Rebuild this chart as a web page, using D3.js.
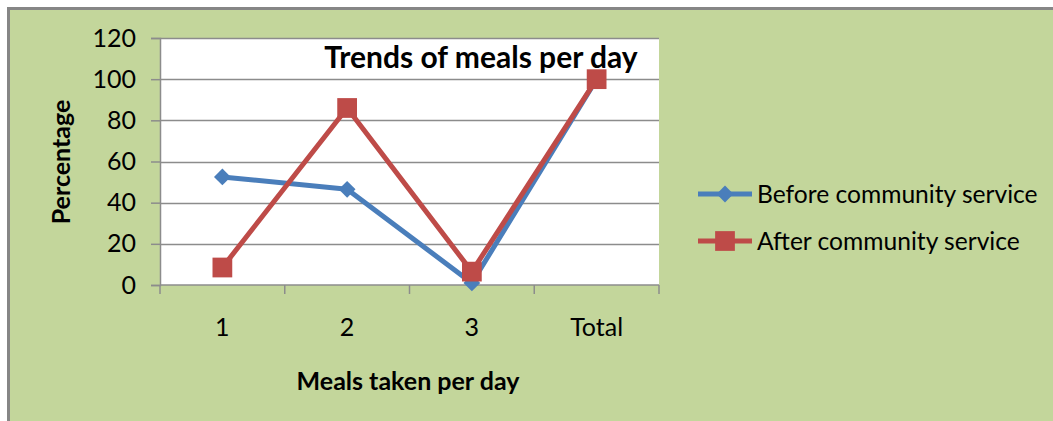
<!DOCTYPE html>
<html>
<head>
<meta charset="utf-8">
<script src="https://cdn.jsdelivr.net/npm/d3@7"></script>
<style>
  body { margin: 0; background: #fff; }
  svg { display: block; font-family: Lato, "Open Sans", sans-serif; }
</style>
</head>
<body>
<div id="chart"></div>
<script>
// data
var categories = ['1', '2', '3', 'Total']
var beforeValues = [52.5, 46.5, 1, 100]
var afterValues = [8.5, 86, 6.5, 100]
var yTicks = [0, 20, 40, 60, 80, 100, 120]
var seriesNames = ['Before community service', 'After community service']

var W = 1053, H = 421
var plot = {left: 160, top: 38, right: 659, bottom: 285}

var svg = d3.select('#chart').append('svg')
    .attr('width', W)
    .attr('height', H)

// outer chart frame
svg.append('rect')
    .attr('x', 8.5).attr('y', 8.5)
    .attr('width', W).attr('height', H)
    .attr('fill', '#c3d69b')
    .attr('stroke', '#868686')
    .attr('stroke-width', 3)

var x = d3.scaleBand()
    .domain(categories)
    .range([plot.left, plot.right])

var y = d3.scaleLinear()
    .domain([0, 120])
    .range([plot.bottom, plot.top])

// plot area
svg.append('rect')
    .attr('x', plot.left).attr('y', plot.top)
    .attr('width', plot.right - plot.left)
    .attr('height', plot.bottom - plot.top)
    .attr('fill', '#fff')

// gridlines
svg.append('g')
  .selectAll('line')
  .data(yTicks.filter(function(d){ return d > 0 }))
  .enter().append('line')
    .attr('x1', plot.left).attr('x2', plot.right)
    .attr('y1', function(d){ return Math.round(y(d)) + 0.5 })
    .attr('y2', function(d){ return Math.round(y(d)) + 0.5 })
    .attr('stroke', '#8c8c8c')
    .attr('stroke-width', 1.5)

// y axis
var yAxis = d3.axisLeft(y).tickValues(yTicks).tickSize(9).tickPadding(15)
var gy = svg.append('g')
    .attr('transform', 'translate(' + plot.left + ',0)')
    .call(yAxis)
gy.select('.domain').attr('stroke', '#8c8c8c').attr('stroke-width', 1.5)
gy.selectAll('.tick line').attr('stroke', '#8c8c8c').attr('stroke-width', 1.5)
gy.selectAll('.tick text')
    .attr('font-size', '25px')
    .attr('fill', '#000')
    .attr('font-family', 'Lato, sans-serif')

// x axis: ticks at category boundaries
var gx = svg.append('g')
    .attr('transform', 'translate(0,' + plot.bottom + ')')
gx.append('line')
    .attr('x1', plot.left).attr('x2', plot.right)
    .attr('stroke', '#8c8c8c').attr('stroke-width', 1.5)
var bounds = categories.map(function(c){ return x(c) }).concat([plot.right])
gx.selectAll('.xtick')
  .data(bounds)
  .enter().append('line')
    .attr('x1', function(d){ return d }).attr('x2', function(d){ return d })
    .attr('y1', 0).attr('y2', 9)
    .attr('stroke', '#8c8c8c').attr('stroke-width', 1.5)
gx.selectAll('.xlabel')
  .data(categories)
  .enter().append('text')
    .attr('x', function(d){ return x(d) + x.bandwidth() / 2 })
    .attr('y', 51)
    .attr('text-anchor', 'middle')
    .attr('font-size', '25px')
    .attr('fill', '#000')
    .text(function(d){ return d })

var line = d3.line()
    .x(function(d, i){ return x(categories[i]) + x.bandwidth() / 2 })
    .y(function(d){ return y(d) })

var colors = ['#4a7ebb', '#be4b48']

svg.append('path')
    .datum(beforeValues)
    .attr('d', line)
    .attr('fill', 'none')
    .attr('stroke', colors[0])
    .attr('stroke-width', 5)
    .attr('stroke-linejoin', 'round')

svg.append('path')
    .datum(afterValues)
    .attr('d', line)
    .attr('fill', 'none')
    .attr('stroke', colors[1])
    .attr('stroke-width', 5)
    .attr('stroke-linejoin', 'round')

var diamond = d3.symbol().type(d3.symbolDiamond2).size(180)
var square = d3.symbol().type(d3.symbolSquare).size(390)

svg.append('g').selectAll('path')
  .data(beforeValues)
  .enter().append('path')
    .attr('d', diamond)
    .attr('transform', function(d, i){ return 'translate(' + (x(categories[i]) + x.bandwidth() / 2) + ',' + y(d) + ')' })
    .attr('fill', colors[0])

svg.append('g').selectAll('path')
  .data(afterValues)
  .enter().append('path')
    .attr('d', square)
    .attr('transform', function(d, i){ return 'translate(' + (x(categories[i]) + x.bandwidth() / 2) + ',' + y(d) + ')' })
    .attr('fill', colors[1])

// title
svg.append('text')
    .attr('x', 481).attr('y', 68)
    .attr('text-anchor', 'middle')
    .attr('font-size', '30px')
    .attr('font-weight', 'bold')
    .attr('fill', '#000')
    .text('Trends of meals per day')

// axis titles
svg.append('text')
    .attr('transform', 'translate(70,162) rotate(-90)')
    .attr('text-anchor', 'middle')
    .attr('font-size', '25px')
    .attr('font-weight', 'bold')
    .attr('fill', '#000')
    .text('Percentage')

svg.append('text')
    .attr('x', 408).attr('y', 390)
    .attr('text-anchor', 'middle')
    .attr('font-size', '25px')
    .attr('font-weight', 'bold')
    .attr('fill', '#000')
    .text('Meals taken per day')

// legend
var legend = svg.append('g')
  .selectAll('g')
  .data(seriesNames)
  .enter().append('g')
    .attr('transform', function(d, i){ return 'translate(698,' + (194 + i * 47) + ')' })

legend.append('line')
    .attr('x1', 0).attr('x2', 54)
    .attr('stroke', function(d, i){ return colors[i] })
    .attr('stroke-width', 5)
legend.append('path')
    .attr('d', function(d, i){ return i === 0 ? diamond() : square() })
    .attr('transform', 'translate(27,0)')
    .attr('fill', function(d, i){ return colors[i] })
legend.append('text')
    .attr('x', 59).attr('y', 9)
    .attr('font-size', '24.6px')
    .attr('fill', '#000')
    .text(function(d){ return d })
</script>
</body>
</html>
